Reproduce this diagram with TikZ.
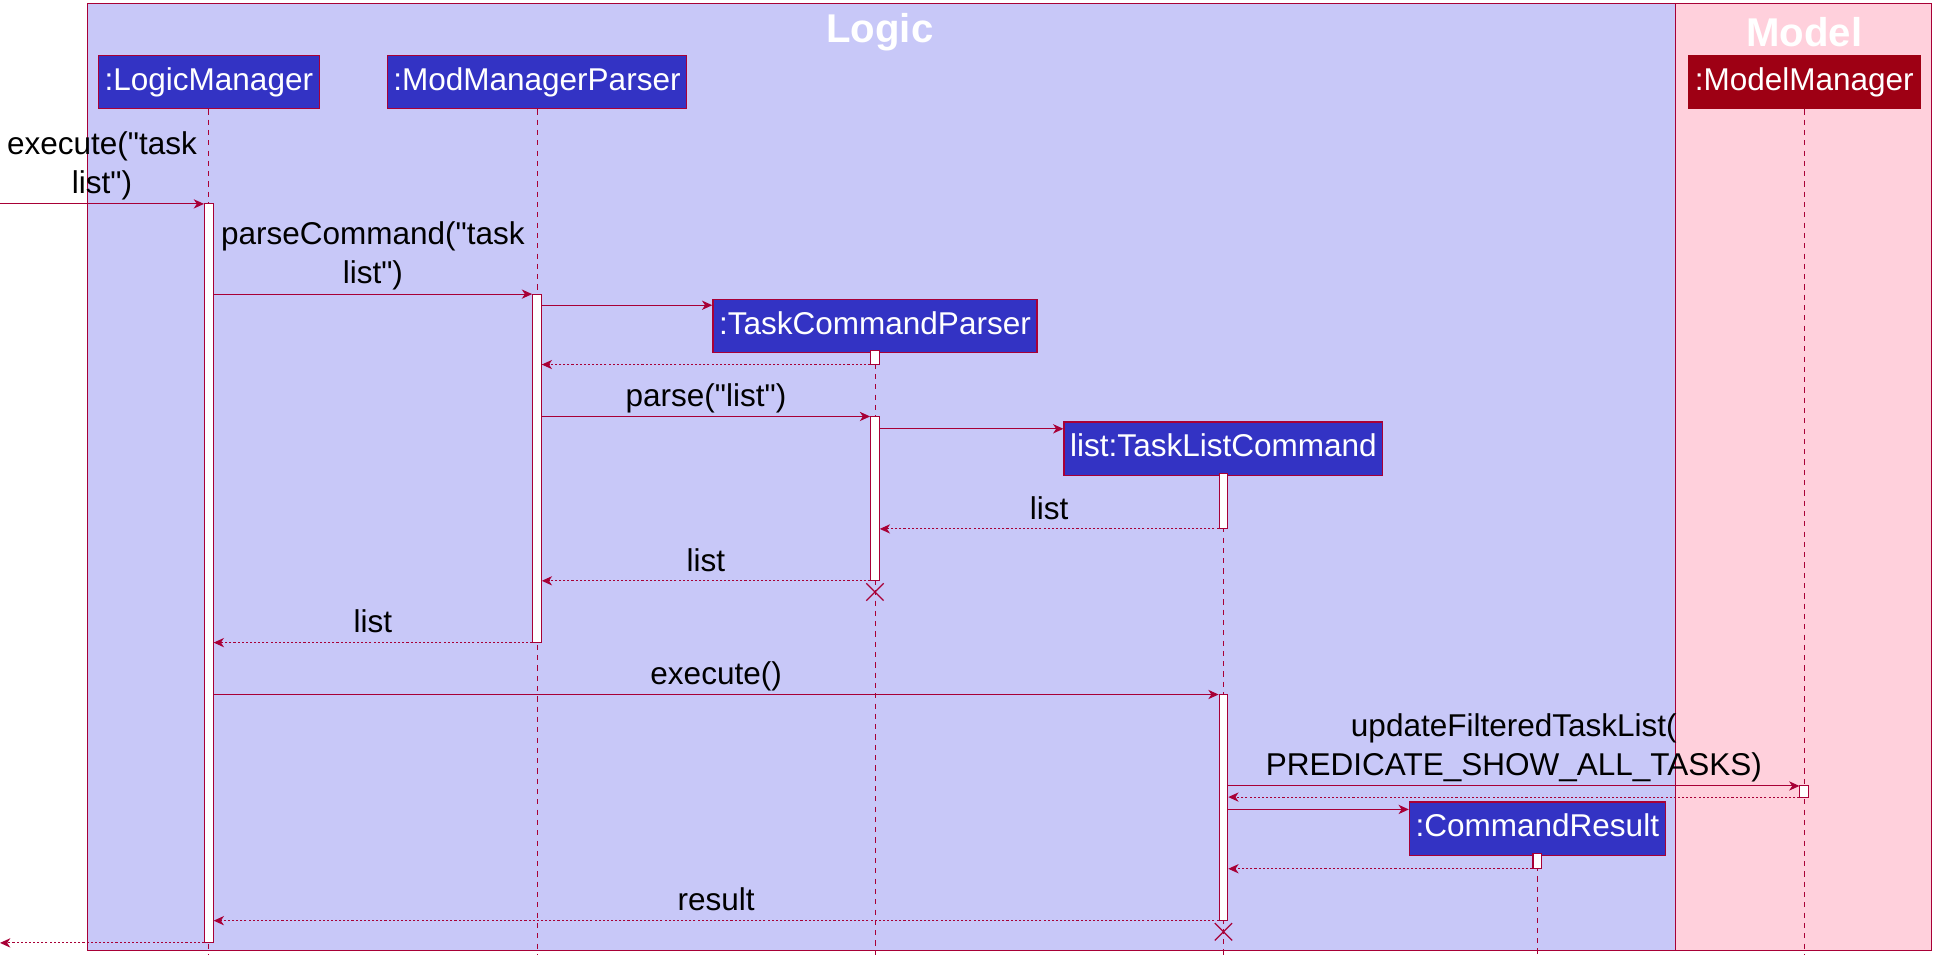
\documentclass[tikz,border=0pt]{standalone}
\usepackage{fontspec}
\setmainfont{Liberation Sans}[Ligatures=TeXOff]
\usetikzlibrary{arrows.meta}
\definecolor{seqred}{HTML}{A80036}
\definecolor{logicbg}{RGB}{200,200,248}
\definecolor{modelbg}{RGB}{255,208,220}
\definecolor{partblue}{RGB}{51,51,196}
\definecolor{partred}{RGB}{158,0,20}
\newcommand{\actbar}[4]{\node[act,minimum height={(#4-#3)*0.6pt}](#1)at(#2,{(#3+#4)/2}){};}

\begin{document}
\begin{tikzpicture}[x=0.6pt,y=-0.6pt,font=\fontsize{15.3}{19}\selectfont,
  part/.style={draw=seqred,fill=partblue,text=white,minimum height=25.8pt,inner xsep=3pt,line width=0.6pt,text height=11pt,text depth=3pt},
  act/.style={draw=seqred,fill=white,minimum width=4.2pt,inner sep=0pt,line width=0.5pt},
  life/.style={seqred,dash pattern=on 2.5pt off 2.5pt,line width=0.4pt},
  msg/.style={seqred,line width=0.5pt,-{Stealth[length=5pt,width=4.5pt,inset=1.5pt]}},
  ret/.style={msg,dash pattern=on 1pt off 1pt},
  lbl/.style={above,text=black,inner sep=1.5pt,text height=11pt,text depth=3pt},
  lbltwo/.style={above,text=black,inner sep=1.5pt,align=center},
  ttl/.style={text=white,font=\fontsize{19.5}{23}\selectfont\bfseries}]
\useasboundingbox(0,0)rectangle(1565,781);
\draw[seqred,line width=0.7pt,fill=logicbg](71,3)rectangle(1356,769);
\draw[seqred,line width=0.7pt,fill=modelbg](1356,3)rectangle(1563,769);
\node[ttl](logicT)at(712,26){Logic};
\node[ttl](modelT)at(1460,26){Model};
\node[part](lm)at(169,66.5){:LogicManager};
\node[part](mmp)at(434.5,66.5){:ModManagerParser};
\node[part](tcp)at(708,264){:TaskCommandParser};
\node[part](tlc)at(990,363){list:TaskListCommand};
\node[part](cr)at(1244,670.5){:CommandResult};
\node[part,fill=partred,draw=partred](mm)at(1460,66.5){:ModelManager};
\foreach \p in {lm,mmp,tcp,tlc,cr,mm}
  \draw[life](\p.south)--(\p.south |- 0,773);
\actbar{lmA}{169}{165}{763}
\actbar{mmpA}{434.5}{238}{520}
\actbar{tcpA}{708}{284}{295}
\actbar{tcpB}{708}{337}{470}
\actbar{tlcA}{990}{383.5}{428}
\actbar{tlcB}{990}{562}{745}
\actbar{mmA}{1460}{636}{645}
\actbar{crA}{1244}{691}{703}
\coordinate(in)at(0,165);
\coordinate(out)at(0,763);
\draw[msg](in)--node[lbltwo]{execute("task\\list")}(lmA.west |- in);
\draw[msg](lmA.east |- 0,238)--node[lbltwo]{parseCommand("task\\list")}(mmpA.west |- 0,238);
\draw[msg](mmpA.east |- 0,247)--(tcp.west |- 0,247);
\draw[ret](tcpA.west |- 0,295)--(mmpA.east |- 0,295);
\draw[msg](mmpA.east |- 0,337)--node[lbl]{parse("list")}(tcpB.west |- 0,337);
\draw[msg](tcpB.east |- 0,347)--(tlc.west |- 0,347);
\draw[ret](tlcA.west |- 0,428)--node[lbl]{list}(tcpB.east |- 0,428);
\draw[ret](tcpB.west |- 0,470)--node[lbl]{list}(mmpA.east |- 0,470);
\draw[ret](mmpA.west |- 0,520)--node[lbl]{list}(lmA.east |- 0,520);
\draw[msg](lmA.east |- 0,562)--node[lbl]{execute()}(tlcB.west |- 0,562);
\draw[msg](tlcB.east |- 0,636)--node[lbltwo]{updateFilteredTaskList(\\PREDICATE\_SHOW\_ALL\_TASKS)}(mmA.west |- 0,636);
\draw[ret](mmA.west |- 0,645)--(tlcB.east |- 0,645);
\draw[msg](tlcB.east |- 0,655)--(cr.west |- 0,655);
\draw[ret](crA.west |- 0,703)--(tlcB.east |- 0,703);
\draw[ret](tlcB.west |- 0,745)--node[lbl]{result}(lmA.east |- 0,745);
\draw[ret](lmA.west |- out)--(out);
\coordinate(tcpX)at(708,479);
\coordinate(tlcX)at(990,754);
\foreach \c in {tcpX,tlcX}
  \draw[seqred,line width=0.6pt](\c)+(-7,-7)--+(7,7)(\c)+(-7,7)--+(7,-7);
\end{tikzpicture}
\end{document}
